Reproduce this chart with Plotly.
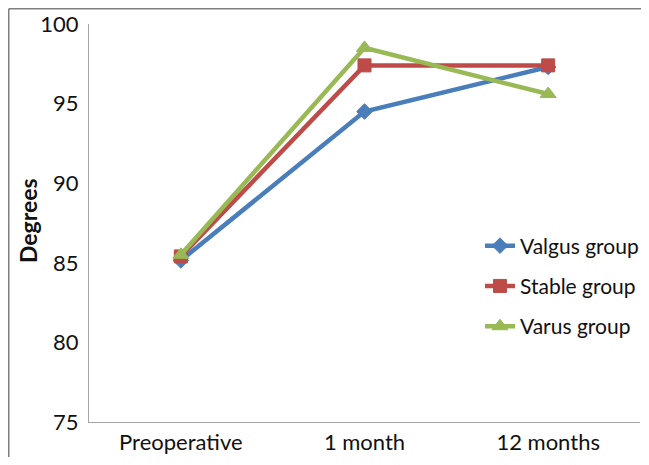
import plotly.graph_objects as go

categories = ["Preoperative", "1 month", "12 months"]
valgus = [85.15, 94.5, 97.3]
stable = [85.4, 97.4, 97.4]
varus = [85.5, 98.5, 95.6]
y_ticks = [75, 80, 85, 90, 95, 100]

series = [
    ("Valgus group", valgus, "#4A7EBB", "diamond", 12),
    ("Stable group", stable, "#BE4B48", "square", 13),
    ("Varus group", varus, "#98B954", "triangle-up", 14),
]

fig = go.Figure()
for i, (name, vals, color, sym, size) in enumerate(series):
    fig.add_trace(go.Scatter(
        x=categories, y=vals, name=name, mode="lines+markers",
        line=dict(color=color, width=4.5),
        marker=dict(symbol=sym, size=size, color=color,
                    line=dict(color=color, width=1)),
        legendgroup=f"g{i}",
    ))

# page body has an 8px margin; figure sized to fit the window exactly
W, H = 633, 449
L, R, T, B = 81, 1, 16, 35
pw, ph = W - L - R, H - T - B

def px(x):
    return (x - L) / pw

def py(y):
    return (H - B - y) / ph

fig.update_layout(
    width=W, height=H,
    margin=dict(l=L, r=R, t=T, b=B, pad=0, autoexpand=False),
    paper_bgcolor="white", plot_bgcolor="white",
    font=dict(family="Lato, Open Sans, sans-serif", size=22, color="#111111"),
    showlegend=True,
    legend=dict(xref="container", yref="container",
                x=472 / W, y=1 - 278 / H, xanchor="left", yanchor="middle",
                traceorder="grouped", tracegroupgap=10,
                font=dict(size=21), bgcolor="rgba(0,0,0,0)"),
    xaxis=dict(type="category", showline=True, linecolor="#A6A6A6", linewidth=1.2,
               ticks="", showgrid=False, zeroline=False, tickfont=dict(size=22),
               range=[-0.5, 2.5], fixedrange=True, ticklabelstandoff=0),
    yaxis=dict(range=[75, 100], tickvals=y_ticks, showline=True, linecolor="#A6A6A6",
               linewidth=1.2, ticks="", showgrid=False, zeroline=False,
               tickfont=dict(size=22), ticklabelstandoff=5),
    annotations=[dict(text="<b>Degrees</b>", textangle=-90, xref="paper", yref="paper",
                      x=px(20), y=py(213), xanchor="center", yanchor="middle",
                      showarrow=False, font=dict(size=23))],
    shapes=[
        dict(type="line", xref="paper", yref="paper",
             x0=px(0.75), x1=px(W), y0=py(0.75), y1=py(0.75),
             line=dict(color="#7F7F7F", width=1.5), layer="below"),
        dict(type="line", xref="paper", yref="paper",
             x0=px(0.75), x1=px(0.75), y0=py(0.75), y1=py(H),
             line=dict(color="#7F7F7F", width=1.5), layer="below"),
    ],
)

fig.write_html("out.html")
